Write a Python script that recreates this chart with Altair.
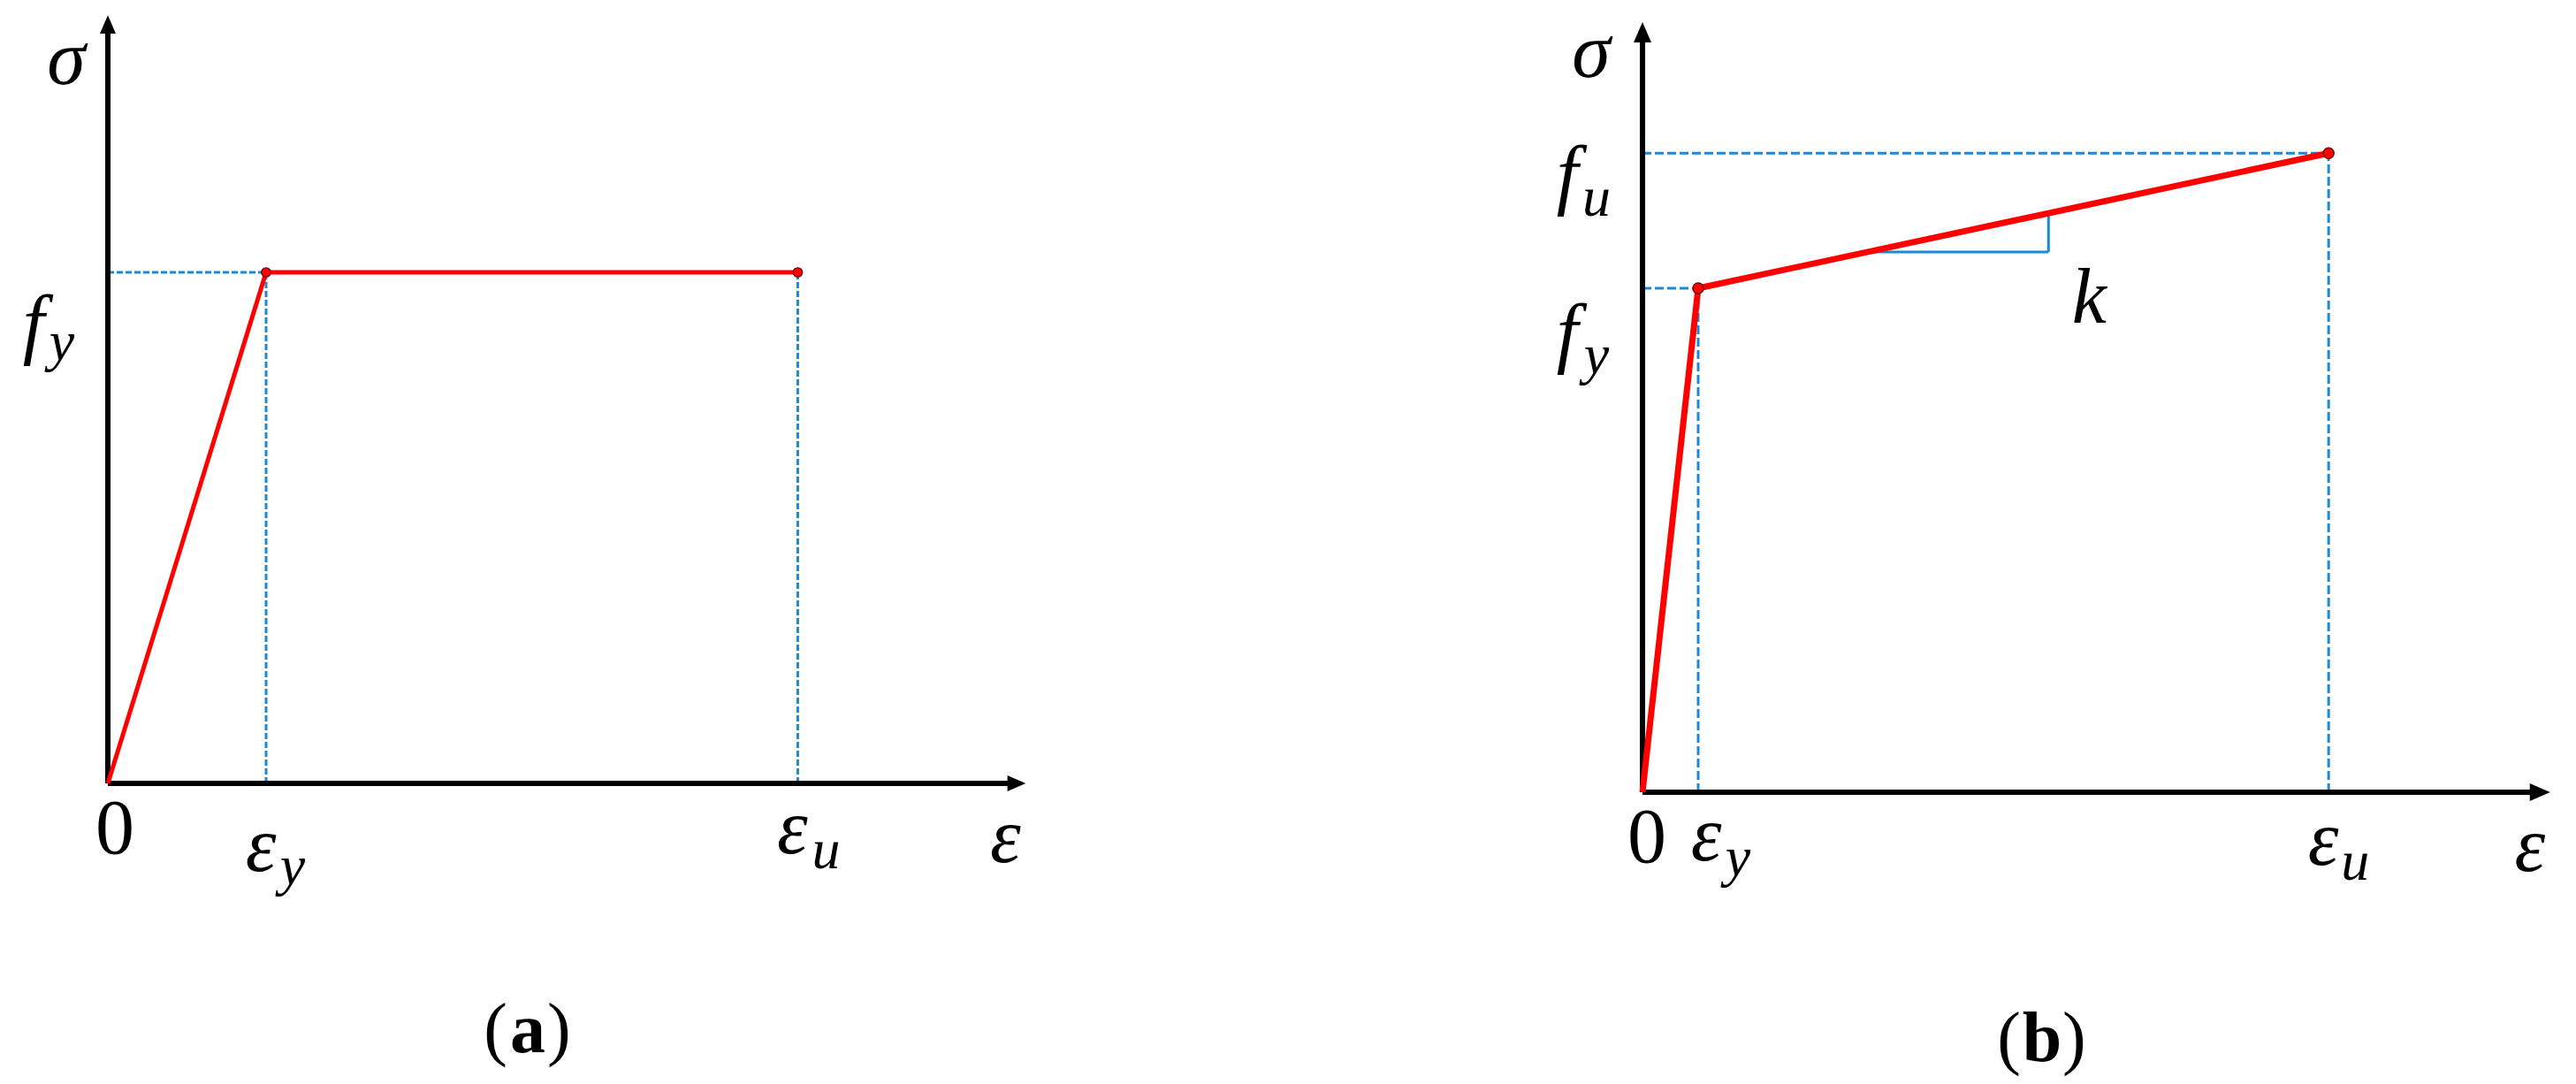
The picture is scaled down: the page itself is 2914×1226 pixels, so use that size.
import altair as alt
import pandas as pd

# ---------------- data (normalised units: strain / eps_y, stress / f_y) ----------------
# Panel (a): elastic - perfectly plastic
a_strain = [0.0, 1.0, 4.36]
a_stress = [0.0, 1.0, 1.0]
a_axis_end = [5.70, 1.472]          # strain-axis end, stress-axis end

# Panel (b): bilinear with hardening slope k
b_strain = [0.0, 1.0, 12.32]
b_stress = [0.0, 1.0, 1.268]
b_axis_end = [15.98, 1.493]
b_slope_x = [4.13, 7.29]            # slope triangle (k) corner positions
b_slope_y = [1.072, 1.151]

MATH = "Liberation Serif"
RED = "#ff0000"
BLUE = "#1a8ad8"
PW, PH = 1449, 1210   # each panel size (pixels)


def panel(strain, stress, axis_end, xdom, ydom, lw, ptsize, dash, arrow, labels,
          slope=None):
    xs = alt.Scale(domain=xdom, nice=False, zero=False)
    ys = alt.Scale(domain=ydom, nice=False, zero=False)

    def X(f):
        return alt.X(f, type="quantitative", scale=xs, axis=None)

    def Y(f):
        return alt.Y(f, type="quantitative", scale=ys, axis=None)

    layers = []

    # dashed guide lines to the key points
    ex, ey = strain[1], stress[1]
    ux, uy = strain[2], stress[2]
    guides = [
        dict(x=0.0, x2=ex, y=ey, y2=ey),
        dict(x=ex, x2=ex, y=0.0, y2=ey),
        dict(x=ux, x2=ux, y=0.0, y2=uy),
    ]
    if uy != ey:
        guides.append(dict(x=0.0, x2=ux, y=uy, y2=uy))
    gdf = pd.DataFrame(guides)
    layers.append(
        alt.Chart(gdf).mark_rule(color=BLUE, strokeWidth=3, strokeDash=dash)
        .encode(x=X("x"), x2="x2", y=Y("y"), y2="y2")
    )

    if slope is not None:
        sx, sy = slope
        sdf = pd.DataFrame([
            dict(x=sx[0], x2=sx[1], y=sy[0], y2=sy[0]),
            dict(x=sx[1], x2=sx[1], y=sy[0], y2=sy[1]),
        ])
        layers.append(
            alt.Chart(sdf).mark_rule(color=BLUE, strokeWidth=3)
            .encode(x=X("x"), x2="x2", y=Y("y"), y2="y2")
        )

    # axes
    adf = pd.DataFrame([
        dict(x=0.0, x2=axis_end[0], y=0.0, y2=0.0),
        dict(x=0.0, x2=0.0, y=0.0, y2=axis_end[1]),
    ])
    layers.append(
        alt.Chart(adf).mark_rule(color="black", strokeWidth=6)
        .encode(x=X("x"), x2="x2", y=Y("y"), y2="y2")
    )
    up = pd.DataFrame(dict(x=[0.0], y=[axis_end[1]]))
    rt = pd.DataFrame(dict(x=[axis_end[0]], y=[0.0]))
    layers.append(
        alt.Chart(up).mark_point(shape="M0,0.3L1,0.3L0,-2L-1,0.3Z", size=arrow,
                                 filled=True, color="black", opacity=1)
        .encode(x=X("x"), y=Y("y"))
    )
    layers.append(
        alt.Chart(rt).mark_point(shape="M-0.3,-1L-0.3,1L2,0Z", size=arrow,
                                 filled=True, color="black", opacity=1)
        .encode(x=X("x"), y=Y("y"))
    )

    # stress-strain curve
    cdf = pd.DataFrame(dict(x=strain, y=stress, o=list(range(len(strain)))))
    layers.append(
        alt.Chart(cdf).mark_line(color=RED, strokeWidth=lw, strokeJoin="round")
        .encode(x=X("x"), y=Y("y"), order="o:Q")
    )
    pdf = cdf.iloc[1:]
    layers.append(
        alt.Chart(pdf).mark_point(filled=True, fill=RED, stroke="#5a0000",
                                  strokeWidth=1.2, size=ptsize, opacity=1)
        .encode(x=X("x"), y=Y("y"))
    )

    # labels
    for (t, ax, ay, dx, dy, size, style, weight, align) in labels:
        ldf = pd.DataFrame(dict(x=[ax], y=[ay], t=[t]))
        layers.append(
            alt.Chart(ldf).mark_text(dx=dx, dy=dy, fontSize=size, font=MATH,
                                     fontStyle=style, fontWeight=weight,
                                     align=align, baseline="alphabetic",
                                     color="black")
            .encode(x=X("x"), y=Y("y"), text="t:N")
        )

    return alt.layer(*layers).properties(
        width=PW, height=PH,
        view=alt.ViewBackground(stroke="transparent", strokeWidth=0),
    )


M = 88   # main math font size
S = 64   # subscript size
C = 80   # caption size

a_labels = [
    ("σ", 0.0, a_axis_end[1], -47, 60, M, "italic", "normal", "center"),
    ("f", 0.0, a_stress[1], -84, 87, M, "italic", "normal", "center"),
    ("y", 0.0, a_stress[1], -52, 99, S, "italic", "normal", "center"),
    ("0", 0.0, 0.0, 8, 79, M, "normal", "normal", "center"),
    ("ε", a_strain[1], 0.0, -6, 99, M, "italic", "normal", "center"),
    ("y", a_strain[1], 0.0, 30, 114, S, "italic", "normal", "center"),
    ("ε", a_strain[2], 0.0, -6, 79, M, "italic", "normal", "center"),
    ("u", a_strain[2], 0.0, 32, 96, S, "italic", "normal", "center"),
    ("ε", a_axis_end[0], 0.0, -5, 89, M, "italic", "normal", "center"),
    ("(", 0.0, 0.0, 452, 304, C, "normal", "normal", "right"),
    ("a", 0.0, 0.0, 475, 304, C, "normal", "bold", "center"),
    (")", 0.0, 0.0, 497, 304, C, "normal", "normal", "left"),
]

b_labels = [
    ("σ", 0.0, b_axis_end[1], -58, 42, M, "italic", "normal", "center"),
    ("f", 0.0, b_stress[2], -85, 53, M, "italic", "normal", "center"),
    ("u", 0.0, b_stress[2], -52, 71, S, "italic", "normal", "center"),
    ("f", 0.0, b_stress[1], -85, 79, M, "italic", "normal", "center"),
    ("y", 0.0, b_stress[1], -52, 96, S, "italic", "normal", "center"),
    ("0", 0.0, 0.0, 5, 79, M, "normal", "normal", "center"),
    ("ε", b_strain[1], 0.0, 9, 77, M, "italic", "normal", "center"),
    ("y", b_strain[1], 0.0, 45, 94, S, "italic", "normal", "center"),
    ("ε", b_strain[2], 0.0, -6, 82, M, "italic", "normal", "center"),
    ("u", b_strain[2], 0.0, 30, 99, S, "italic", "normal", "center"),
    ("ε", b_axis_end[0], 0.0, -3, 89, M, "italic", "normal", "center"),
    ("k", b_slope_x[1], b_slope_y[0], 46, 80, M, "italic", "normal", "center"),
    ("(", 0.0, 0.0, 428, 304, C, "normal", "normal", "right"),
    ("b", 0.0, 0.0, 452, 304, C, "normal", "bold", "center"),
    (")", 0.0, 0.0, 475, 304, C, "normal", "normal", "left"),
]


# pixel mapping of each panel -> scale domains
def domains(ox, oy, sx, sy):
    x0 = -ox / sx
    x1 = x0 + PW / sx
    y1 = oy / sy
    y0 = -(PH - oy) / sy
    return [x0, x1], [y0, y1]


a_xd, a_yd = domains(114, 878, 179, 578)
b_xd, b_yd = domains(401, 888, 63, 570)

pa = panel(a_strain, a_stress, a_axis_end, a_xd, a_yd, 5, 110, [7, 3], 324, a_labels)
pb = panel(b_strain, b_stress, b_axis_end, b_xd, b_yd, 7, 150, [10, 4], 400, b_labels,
           slope=(b_slope_x, b_slope_y))

chart = (
    alt.hconcat(pa, pb, spacing=0, padding=0)
    .configure_view(stroke="transparent", strokeWidth=0)
    .configure(background="white")
)

chart.save("out.html", embed_options={"renderer": "svg", "actions": False})
